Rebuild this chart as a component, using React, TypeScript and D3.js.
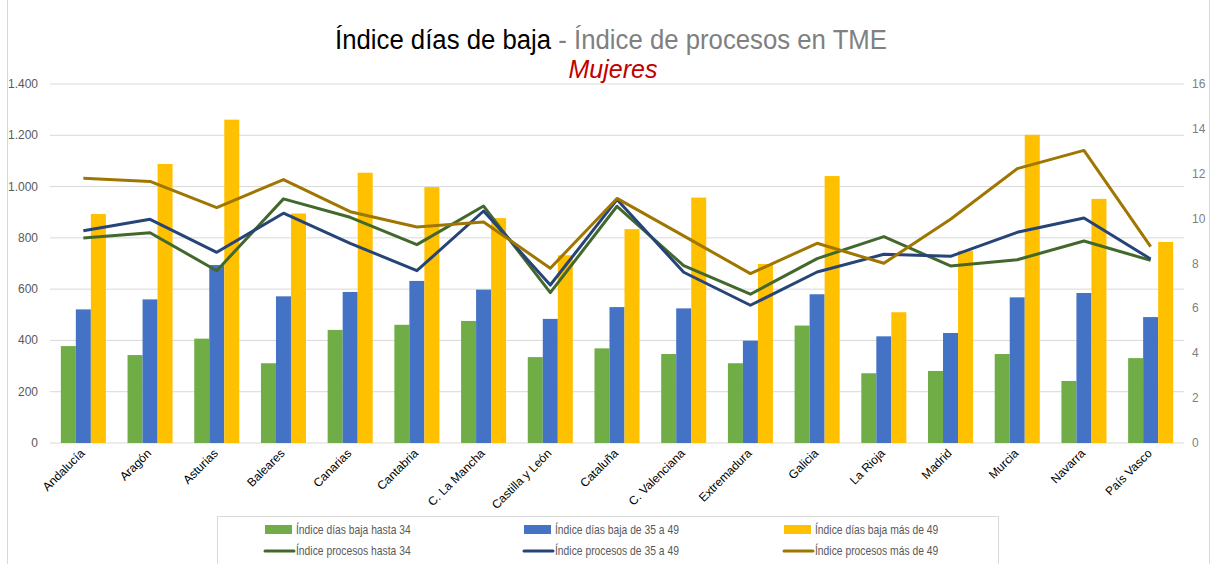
import React from "react";
import * as d3 from "d3";

const categories = ["Andalucía","Aragón","Asturias","Baleares","Canarias","Cantabria","C. La Mancha","Castilla y León","Cataluña","C. Valenciana","Extremadura","Galicia","La Rioja","Madrid","Murcia","Navarra","País Vasco"];
const diasHasta34 = [378,343,407,311,441,461,476,335,369,347,311,458,272,281,347,242,331];
const dias35a49 = [521,560,694,572,589,632,598,484,530,525,399,580,416,429,568,585,491];
const diasMas49 = [893,1088,1261,895,1054,998,877,732,834,957,698,1041,510,750,1202,952,784];
const procHasta34 = [9.14,9.37,7.68,10.88,10.06,8.84,10.56,6.70,10.55,7.90,6.63,8.22,9.20,7.89,8.17,9.00,8.14];
const proc35a49 = [9.46,9.97,8.50,10.24,8.90,7.68,10.34,7.04,10.85,7.61,6.14,7.62,8.41,8.32,9.39,10.03,8.20];
const procMas49 = [11.80,11.66,10.49,11.74,10.31,9.63,9.85,7.79,10.90,9.23,7.55,8.90,8.01,9.97,12.23,13.04,8.75];
const leftTicks = [0,200,400,600,800,1000,1200,1400];
const rightTicks = [0,2,4,6,8,10,12,14,16];

const barSeries = [
  { name: "Índice días baja hasta 34", values: diasHasta34, color: "#70AD47" },
  { name: "Índice días baja de 35 a 49", values: dias35a49, color: "#4472C4" },
  { name: "Índice días baja más de 49", values: diasMas49, color: "#FFC000" },
];
const lineSeries = [
  { name: "Índice procesos hasta 34", values: procHasta34, color: "#43682B" },
  { name: "Índice procesos de 35 a 49", values: proc35a49, color: "#264478" },
  { name: "Índice procesos más de 49", values: procMas49, color: "#9E7600" },
];

const FONT = "'Liberation Sans', Arial, sans-serif";

export default function App() {
  const W = 1211, H = 564;
  const x0 = 50, x1 = 1184, yTop = 84, yBot = 443;
  const x = d3.scaleBand<string>().domain(categories).range([x0, x1]).paddingInner(0.325).paddingOuter(0.1625);
  const xc = (c: string) => (x(c) as number) + x.bandwidth() / 2;
  const xs = d3.scaleBand<number>().domain([0, 1, 2]).range([0, x.bandwidth()]);
  const yL = d3.scaleLinear().domain([0, 1400]).range([yBot, yTop]);
  const yR = d3.scaleLinear().domain([0, 16]).range([yBot, yTop]);
  const line = (vals: number[]) =>
    d3.line<number>().x((_, i) => xc(categories[i])).y((v) => yR(v))(vals) as string;

  const legendCols = [265, 524, 784];
  const legendRows = [530, 551];

  return (
    <svg width={W} height={H} style={{ position: "absolute", left: 0, top: 0, background: "#fff" }} fontFamily={FONT}>
      <rect x={7.5} y={-2} width={1202} height={H + 4} fill="#fff" stroke="#d9d9d9" />
      <text x={611} y={49} textAnchor="middle" fontSize={27} textLength={552} lengthAdjust="spacingAndGlyphs">
        <tspan fill="#000">Índice días de baja</tspan>
        <tspan fill="#808080"> - Índice de procesos en TME</tspan>
      </text>
      <text x={613} y={78} textAnchor="middle" fontSize={25} fontStyle="italic" fill="#C00000">Mujeres</text>

      {leftTicks.map((t) => (
        <g key={"g" + t}>
          <line x1={x0} x2={x1} y1={yL(t)} y2={yL(t)} stroke="#d9d9d9" strokeWidth={1} />
          <text x={38} y={yL(t) + 4} textAnchor="end" fontSize={12} fill="#595959">
            {d3.format(",")(t).replace(/,/g, ".")}
          </text>
        </g>
      ))}
      {rightTicks.map((t) => (
        <text key={"r" + t} x={1192} y={yR(t) + 4} textAnchor="start" fontSize={12} fill="#7f7f7f">
          {t}
        </text>
      ))}

      {barSeries.map((s, si) =>
        s.values.map((v, i) => (
          <rect key={s.name + i} x={(x(categories[i]) as number) + (xs(si) as number)} y={yL(v)} width={xs.bandwidth()} height={yBot - yL(v)} fill={s.color} />
        ))
      )}
      {lineSeries.map((s) => (
        <path key={s.name} d={line(s.values)} fill="none" stroke={s.color} strokeWidth={3} strokeLinejoin="round" />
      ))}

      {categories.map((c) => (
        <text key={c} transform={`translate(${xc(c) + 2},${yBot + 11}) rotate(-45)`} textAnchor="end" fontSize={12} fill="#000">
          {c}
        </text>
      ))}

      <rect x={217.5} y={516.5} width={781} height={52} fill="#fff" stroke="#d9d9d9" />
      {barSeries.map((s, i) => (
        <g key={"lb" + i}>
          <rect x={legendCols[i]} y={legendRows[0] - 5} width={27} height={9} fill={s.color} />
          <text transform={`translate(${legendCols[i] + 31},${legendRows[0] + 4}) scale(0.86,1)`} fontSize={12} fill="#595959">{s.name}</text>
        </g>
      ))}
      {lineSeries.map((s, i) => (
        <g key={"ll" + i}>
          <line x1={legendCols[i]} x2={legendCols[i] + 29} y1={legendRows[1]} y2={legendRows[1]} stroke={s.color} strokeWidth={3} strokeLinecap="round" />
          <text transform={`translate(${legendCols[i] + 31},${legendRows[1] + 4}) scale(0.86,1)`} fontSize={12} fill="#595959">{s.name}</text>
        </g>
      ))}
    </svg>
  );
}
